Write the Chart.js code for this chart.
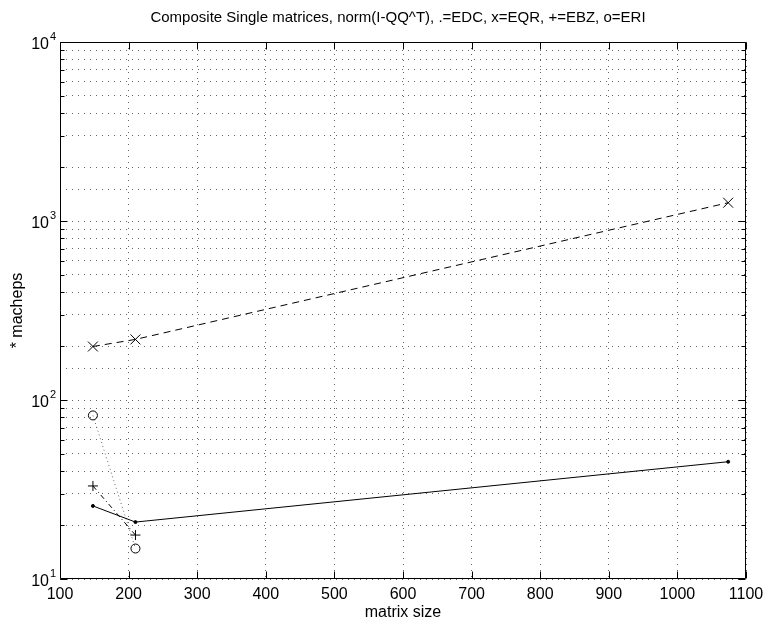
<!DOCTYPE html>
<html>
<head>
<meta charset="utf-8">
<script src="https://cdn.jsdelivr.net/npm/chart.js@4/dist/chart.umd.min.js"></script>
<style>
  html, body { margin: 0; padding: 0; background: #fff; }
  #wrap { width: 771px; height: 624px; }
</style>
</head>
<body>
<div id="wrap"><canvas id="c" width="771" height="624"></canvas></div>
<script>
// Matrix sizes tested and the error measure for each method (units of macheps)
const sizes = [148, 210, 1074];
const edc = [25.6, 20.8, 45.2];
const eqr = [199, 218, 1265];
const ebzSizes = [148, 210];
const ebz = [33.1, 17.6];
const eriSizes = [148, 210];
const eri = [82, 14.8];

// Axis tick values
const xTicks = [100, 200, 300, 400, 500, 600, 700, 800, 900, 1000, 1100];
const yDecades = [1, 2, 3, 4];          // exponents: 10^1 .. 10^4

const titleText = 'Composite Single matrices, norm(I-QQ^T), .=EDC, x=EQR, +=EBZ, o=ERI';
const xLabel = 'matrix size';
const yLabel = '* macheps';
const FONT = '"Liberation Sans", Arial, Helvetica, sans-serif';

const pts = (xs, ys) => xs.map((x, i) => ({ x: x, y: ys[i] }));

// Box, inward tick marks, exponent labels and titles in a MATLAB-like style
const axesDecor = {
  id: 'axesDecor',
  afterDraw(chart) {
    const ctx = chart.ctx;
    const xs = chart.scales.x, ys = chart.scales.y;
    const a = chart.chartArea;
    const L = Math.round(a.left) + 0.5, R = Math.round(a.right) - 0.5;
    const T = Math.round(a.top) + 0.5, B = Math.round(a.bottom) - 0.5;
    ctx.save();
    ctx.strokeStyle = '#000';
    ctx.lineWidth = 1;
    ctx.setLineDash([]);
    ctx.beginPath();
    ctx.rect(L, T, R - L, B - T);
    ctx.stroke();

    // x ticks (bottom and top, pointing in)
    ctx.beginPath();
    xTicks.forEach(v => {
      const px = Math.round(xs.getPixelForValue(v)) + 0.5;
      ctx.moveTo(px, B); ctx.lineTo(px, B - 7);
      ctx.moveTo(px, T); ctx.lineTo(px, T + 7);
    });
    // y ticks: decades long, intermediate values short
    for (let e = yDecades[0]; e <= yDecades[yDecades.length - 1]; e++) {
      for (let m = 1; m <= 9; m++) {
        if (e === yDecades[yDecades.length - 1] && m > 1) break;
        const v = m * Math.pow(10, e);
        const py = Math.round(ys.getPixelForValue(v)) + 0.5;
        const len = m === 1 ? 7 : 4;
        ctx.moveTo(L, py); ctx.lineTo(L + len, py);
        ctx.moveTo(R, py); ctx.lineTo(R - len, py);
      }
    }
    ctx.stroke();

    ctx.fillStyle = '#000';
    // x tick labels
    ctx.font = '16px ' + FONT;
    ctx.textAlign = 'center';
    ctx.textBaseline = 'alphabetic';
    xTicks.forEach(v => {
      ctx.fillText(String(v), xs.getPixelForValue(v), 599);
    });

    // y tick labels as 10 with superscript exponent
    yDecades.forEach(e => {
      const py = ys.getPixelForValue(Math.pow(10, e));
      ctx.font = '16px ' + FONT;
      ctx.textAlign = 'right';
      ctx.fillText('10', 49, py + 7);
      ctx.font = '11px ' + FONT;
      ctx.textAlign = 'left';
      ctx.fillText(String(e), 50, py - 2);
    });

    // title and axis titles
    ctx.textAlign = 'center';
    ctx.font = '15px ' + FONT;
    ctx.fillText(titleText, 398, 22);
    ctx.font = '16px ' + FONT;
    ctx.fillText(xLabel, (a.left + a.right) / 2, 617);
    ctx.save();
    ctx.translate(22, (a.top + a.bottom) / 2);
    ctx.rotate(-Math.PI / 2);
    ctx.fillText(yLabel, 0, 0);
    ctx.restore();
    ctx.restore();
  }
};

const gridOpts = { color: '#666', lineWidth: 1, drawTicks: false };
const dotted = { display: false, dash: [1, 5] };

new Chart(document.getElementById('c'), {
  type: 'scatter',
  data: {
    datasets: [
      {
        label: 'EDC', data: pts(sizes, edc), showLine: true,
        borderColor: '#000', borderWidth: 1,
        pointStyle: 'circle', pointRadius: 1.5,
        pointBackgroundColor: '#000', pointBorderColor: '#000', pointBorderWidth: 1
      },
      {
        label: 'EQR', data: pts(sizes, eqr), showLine: true,
        borderColor: '#000', borderWidth: 1, borderDash: [7, 5],
        pointStyle: 'crossRot', pointRadius: 7,
        pointBorderColor: '#000', pointBorderWidth: 1
      },
      {
        label: 'EBZ', data: pts(ebzSizes, ebz), showLine: true,
        borderColor: '#000', borderWidth: 1, borderDash: [5, 3, 1, 3],
        pointStyle: 'cross', pointRadius: 5,
        pointBorderColor: '#000', pointBorderWidth: 1
      },
      {
        label: 'ERI', data: pts(eriSizes, eri), showLine: true,
        borderColor: '#666', borderWidth: 1, borderDash: [1, 3],
        pointStyle: 'circle', pointRadius: 4.5,
        pointBackgroundColor: 'rgba(0,0,0,0)', pointBorderColor: '#000', pointBorderWidth: 1
      }
    ]
  },
  options: {
    responsive: false,
    animation: false,
    devicePixelRatio: 1,
    layout: { padding: { top: 42, right: 25, left: 0, bottom: 0 } },
    plugins: { legend: { display: false }, tooltip: { enabled: false }, title: { display: false } },
    scales: {
      x: {
        type: 'linear', min: 100, max: 1100,
        ticks: { display: false, stepSize: 100, autoSkip: false },
        grid: gridOpts, border: dotted,
        afterFit(s) { s.height = 45; }
      },
      y: {
        type: 'logarithmic', min: 10, max: 10000,
        ticks: { display: false, autoSkip: false },
        grid: gridOpts, border: dotted,
        afterFit(s) { s.width = 60; }
      }
    }
  },
  plugins: [axesDecor]
});
</script>
</body>
</html>
